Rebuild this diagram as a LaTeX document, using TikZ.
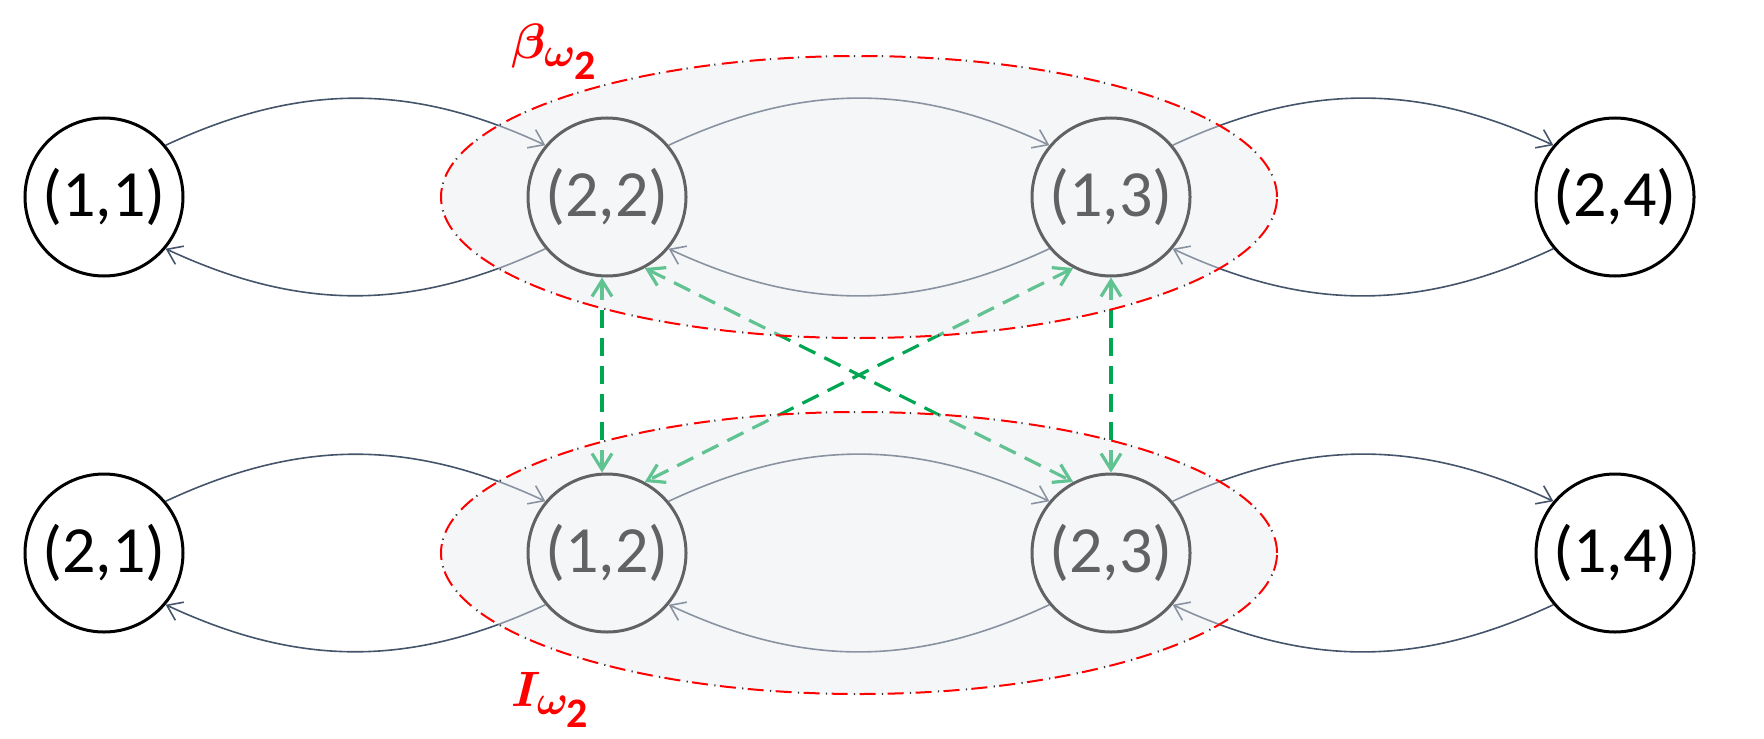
\documentclass[tikz,border=0pt]{standalone}
\usepackage{amsmath}
\usepackage{bm}
\usepackage{fontspec}
\setmainfont{Carlito}
\usetikzlibrary{arrows.meta}
\definecolor{navy}{HTML}{44546A}
\definecolor{grn}{HTML}{00A651}
\definecolor{ovl}{RGB}{232,234,238}
\definecolor{dotc}{HTML}{333333}
\begin{document}
\begin{tikzpicture}[x=0.5pt,y=0.5pt,
 st/.style={circle,draw=black,line width=1.5pt,minimum size=79pt,inner sep=0pt,font=\fontsize{33}{36}\selectfont},
 tr/.style={draw=navy,line width=0.8pt,-{Straight Barb[length=7pt,width=10pt]}},
 gd/.style={draw=grn,line width=1.6pt,dash pattern=on 9pt off 5pt,{Straight Barb[length=8pt,width=10pt,line width=1.6pt]}-{Straight Barb[length=8pt,width=10pt,line width=1.6pt]}},
 grp/.style={fill=ovl,fill opacity=0.42,draw=none},
 grpline/.style={draw=red,line width=1pt,dash pattern=on 8pt off 6pt},
 grpdot/.style={draw=dotc,line width=1pt,dash pattern=on 0.6pt off 13.4pt,dash phase=2.8pt},
 lbl/.style={text=red,inner sep=0pt,font=\fontsize{30}{36}\selectfont}]
\useasboundingbox (0,0) rectangle (1764,-738);
% nodes
\node[st] (n11) at (104,-197) {(1,1)};
\node[st] (n22) at (607,-197) {(2,2)};
\node[st] (n13) at (1111,-197) {(1,3)};
\node[st] (n24) at (1615,-197) {(2,4)};
\node[st] (n21) at (104,-553) {(2,1)};
\node[st] (n12) at (607,-553) {(1,2)};
\node[st] (n23) at (1111,-553) {(2,3)};
\node[st] (n14) at (1615,-553) {(1,4)};
% transitions
\foreach \a/\b in {n11/n22,n22/n13,n13/n24,n21/n12,n12/n23,n23/n14}{
  \draw[tr] (\a.40) to[out=25,in=155] (\b.140);
  \draw[tr] (\b.220) to[out=205,in=335] (\a.320);
}
% green links
\draw[gd] ([xshift=-2.5pt]n22.south) -- ([xshift=-2.5pt]n12.north);
\draw[gd] (n13.south) -- (n23.north);
\draw[gd] (n22.-62) -- (n23.118);
\draw[gd] (n13.242) -- (n12.62);
% group overlays
\path[grp] (859,-197) ellipse [x radius=418, y radius=141];
\path[grp] (859,-553) ellipse [x radius=418, y radius=141];
\draw[grpline] (859,-197) ellipse [x radius=418, y radius=141];
\draw[grpdot] (859,-197) ellipse [x radius=418, y radius=141];
\draw[grpline] (859,-553) ellipse [x radius=418, y radius=141];
\draw[grpdot] (859,-553) ellipse [x radius=418, y radius=141];
% labels
\node[lbl,anchor=west] (lb) at (511,-52) {$\bm{\beta}_{\bm{\omega}_{\scriptstyle\text{\bfseries 2}}}$};
\node[lbl,anchor=west] (li) at (511,-700) {$\bm{I}_{\bm{\omega}_{\scriptstyle\text{\bfseries 2}}}$};
\end{tikzpicture}
\end{document}
